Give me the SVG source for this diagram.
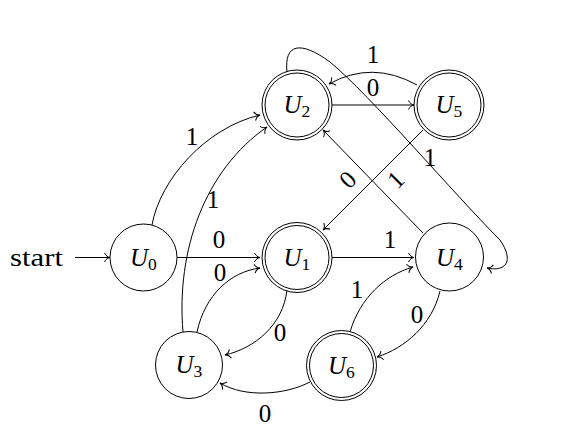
<svg xmlns="http://www.w3.org/2000/svg" width="562" height="442" viewBox="0 0 562 442">
<defs>
<marker id="arr" markerUnits="userSpaceOnUse" markerWidth="12" markerHeight="12" refX="0" refY="0" viewBox="-7 -6 8 12" orient="auto" overflow="visible">
<path d="M-5.5,-4.5 C-4.4,-1.7 -1.7,-0.3 0,0 C-1.7,0.3 -4.4,1.7 -5.5,4.5" fill="none" stroke="#000" stroke-width="1"/>
</marker>
</defs>
<style>
.n{fill:#fff;stroke:#000;stroke-width:1}
.e{fill:none;stroke:#000;stroke-width:1;marker-end:url(#arr)}
text{font-family:'Liberation Serif','Times New Roman',serif;font-size:25px;fill:#000}
.u{font-style:italic}
.s{font-size:17.5px;font-style:normal}
.l{text-anchor:middle}
</style>
<rect width="562" height="442" fill="#fff"/>
<g id="connectors">
<path class="e" d="M75,257.5 L110,257.5"/>
<path class="e" d="M152,225 C160,180 205,128 260,115"/>
<path class="e" d="M177,257.5 L260,257.5"/>
<path class="e" d="M183,332 C176,250 205,170 267,127"/>
<path class="e" d="M197,332 C205,295 230,272 260,268"/>
<path class="e" d="M287,290 C283,325 255,348 225,355"/>
<path class="e" d="M332,257.5 L414,257.5"/>
<path class="e" d="M332,105 L414,105"/>
<path class="e" d="M417,85 Q372,60 329,84"/>
<path class="e" d="M423,233 L323,130"/>
<path class="e" d="M423,130 L323,230"/>
<path class="e" d="M287,72 C284,44 300,40 330,62 C370,95 455,195 500,240 C515,262 505,272 487,268"/>
<path class="e" d="M440,291 C432,325 405,348 377,357"/>
<path class="e" d="M350,332 C360,298 385,275 413,267"/>
<path class="e" d="M310,382 C285,395 245,398 220,383"/>
</g>
<g id="labels">
<text class="l" x="192" y="145">1</text>
<text class="l" x="213" y="208">1</text>
<text class="l" x="219" y="248">0</text>
<text class="l" x="220" y="281">0</text>
<text class="l" x="280" y="341">0</text>
<text class="l" x="265" y="422">0</text>
<text class="l" x="390" y="248">1</text>
<text class="l" x="373" y="96">0</text>
<text class="l" x="373" y="63">1</text>
<text class="l" x="430" y="166">1</text>
<text class="l" transform="translate(348,180) rotate(-45)" x="0" y="8">0</text>
<text class="l" transform="translate(396,180) rotate(-45)" x="0" y="8">1</text>
<text class="l" x="417" y="323">0</text>
<text class="l" x="357" y="298">1</text>
<text x="10" y="266" textLength="53" lengthAdjust="spacingAndGlyphs">start</text>
</g>
<g id="U0">
<circle class="n" cx="143.5" cy="257.5" r="33.5"/>
<text class="u" x="130" y="266">U<tspan class="s" dy="4">0</tspan></text>
</g>
<g id="U1">
<circle class="n" cx="297" cy="257.5" r="35"/>
<circle class="n" cx="297" cy="257.5" r="32"/>
<text class="u" x="283.5" y="266">U<tspan class="s" dy="4">1</tspan></text>
</g>
<g id="U2">
<circle class="n" cx="297" cy="105" r="35"/>
<circle class="n" cx="297" cy="105" r="32"/>
<text class="u" x="283.5" y="113">U<tspan class="s" dy="4">2</tspan></text>
</g>
<g id="U3">
<circle class="n" cx="189" cy="365" r="33.5"/>
<text class="u" x="175.5" y="373">U<tspan class="s" dy="4">3</tspan></text>
</g>
<g id="U4">
<circle class="n" cx="449.5" cy="257" r="34"/>
<text class="u" x="436" y="265.5">U<tspan class="s" dy="4">4</tspan></text>
</g>
<g id="U5">
<circle class="n" cx="449" cy="105" r="35"/>
<circle class="n" cx="449" cy="105" r="32"/>
<text class="u" x="435.5" y="113">U<tspan class="s" dy="4">5</tspan></text>
</g>
<g id="U6">
<circle class="n" cx="341.5" cy="365.5" r="35"/>
<circle class="n" cx="341.5" cy="365.5" r="32"/>
<text class="u" x="328" y="374">U<tspan class="s" dy="4">6</tspan></text>
</g>
</svg>
